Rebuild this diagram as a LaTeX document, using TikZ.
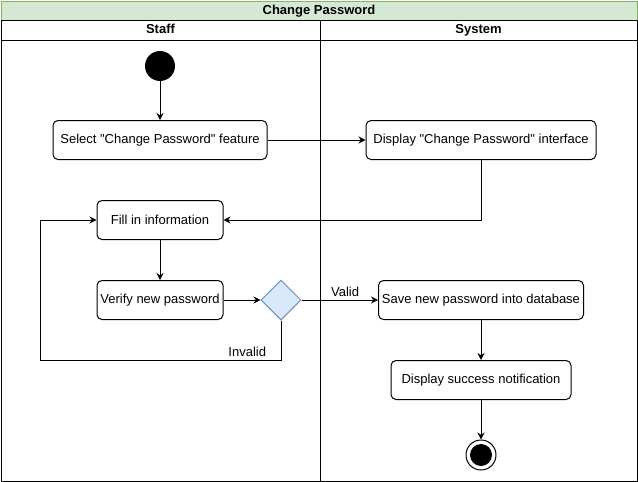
\documentclass[tikz,border=0pt]{standalone}
\usepackage{fontspec}
\setmainfont{Liberation Sans}[Ligatures=TeXOff]
\usepackage{xcolor}
\usepackage{tikz}
\usetikzlibrary{arrows.meta,shapes.geometric}
\definecolor{titlefill}{HTML}{D5E8D4}
\definecolor{titleline}{HTML}{82B366}
\definecolor{decfill}{HTML}{DAE8FC}
\definecolor{decline}{HTML}{6C8EBF}
\tikzset{
  lane/.style={draw=black, line width=1pt},
  head/.style={font=\fontsize{13}{15}\selectfont\bfseries, text height=9.5pt, text depth=2.5pt},
  act/.style={draw=black, line width=1pt, rounded corners=5pt, minimum height=39pt,
    inner sep=2pt, font=\fontsize{13}{15}\selectfont},
  decision/.style={diamond, draw=decline, fill=decfill, line width=1pt, minimum width=40pt,
    minimum height=40pt, inner sep=0pt},
  startdot/.style={circle, fill=black, minimum size=30pt, inner sep=0pt},
  endring/.style={circle, draw=black, fill=white, line width=1pt, minimum size=30pt, inner sep=0pt},
  flow/.style={draw=black, line width=1pt, -{Stealth[length=7pt,width=7pt]}},
  lbl/.style={font=\fontsize{13}{15}\selectfont}
}

\begin{document}
\begin{tikzpicture}[x=1pt, y=-1pt]
  \useasboundingbox (0,0) rectangle (638,482);

  % pool and lanes
  \draw[draw=titleline, fill=titlefill, line width=1pt] (1,1) rectangle (637,20);
  \node[head] (title) at (319,10.5) {Change Password};
  \draw[lane] (1,20) rectangle (320,40);
  \draw[lane] (320,20) rectangle (637,40);
  \node[head] (staff) at (160.5,30) {Staff};
  \node[head] (system) at (478.5,30) {System};
  \draw[lane] (1,40) rectangle (320,481);
  \draw[lane] (320,40) rectangle (637,481);

  % activities
  \node[startdot] (start) at (160,66) {};
  \node[act, minimum width=214pt] (select) at (160,140) {Select "Change Password" feature};
  \node[act, minimum width=230pt] (dispui) at (481,140) {Display "Change Password" interface};
  \node[act, minimum width=126pt] (fill) at (160,220) {Fill in information};
  \node[act, minimum width=126pt] (verify) at (160,300) {Verify new password};
  \node[decision] (check) at (281,300) {};
  \node[act, minimum width=205pt] (save) at (481,300) {Save new password into database};
  \node[act, minimum width=180pt] (notify) at (481,380) {Display success notification};
  \node[endring] (stop) at (481,455) {};
  \fill (stop) circle (11);
  \coordinate (loop) at (40,360);

  % flows
  \draw[flow] (start) -- (select);
  \draw[flow] (select) -- (dispui);
  \draw[flow] (dispui.south) |- (fill.east);
  \draw[flow] (fill) -- (verify);
  \draw[flow] (verify) -- (check);
  \draw[flow] (check) -- node[lbl, above, pos=0.57] {Valid} (save);
  \draw[flow] (check.south) |- node[lbl, above, pos=0.57] {Invalid} (loop) |- (fill.west);
  \draw[flow] (save) -- (notify);
  \draw[flow] (notify) -- (stop);
\end{tikzpicture}
\end{document}
